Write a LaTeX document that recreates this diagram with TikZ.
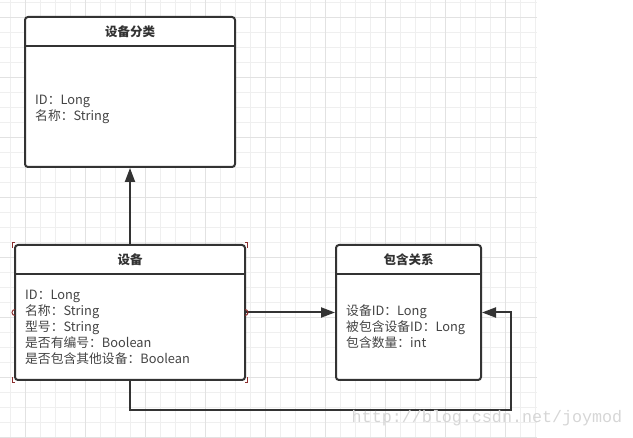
\documentclass[tikz,border=0pt]{standalone}
\usepackage{fontspec}
\setmainfont{Noto Sans CJK SC}
\newfontfamily\wmfont{Liberation Mono}
\usetikzlibrary{arrows.meta}
\definecolor{gridlight}{HTML}{EFEFEF}
\definecolor{griddark}{HTML}{E2E2E2}
\definecolor{ink}{HTML}{333333}
\definecolor{txt}{HTML}{444444}
\definecolor{handle}{HTML}{8B2E2E}
\definecolor{wm}{HTML}{D6D6D6}
\tikzset{
  umlbox/.style={draw=ink, line width=2pt, rounded corners=3pt, fill=white, inner sep=0pt},
  divider/.style={draw=ink, line width=2pt},
  title/.style={font=\fontsize{12.5pt}{15pt}\selectfont\bfseries, text=ink, inner sep=0pt},
  attrs/.style={font=\fontsize{12.8pt}{16pt}\selectfont, text=txt, align=left, inner sep=0pt, anchor=west},
  conn/.style={draw=ink, line width=2pt, -{Triangle[length=14pt,width=10pt]}},
  hdl/.style={draw=handle, line width=1pt},
}
\begin{document}
\begin{tikzpicture}[x=1pt,y=-1pt]
\useasboundingbox (0,0) rectangle (633,438);
% grid
\foreach \i in {0,...,35} { \draw[gridlight, line width=1pt] (10+15*\i,0) -- (10+15*\i,438); }
\foreach \j in {0,...,29} { \draw[gridlight, line width=1pt] (0,3+15*\j) -- (537,3+15*\j); }
\foreach \i in {0,...,8} { \draw[griddark, line width=1pt] (25+60*\i,0) -- (25+60*\i,438); }
\foreach \j in {0,...,7} { \draw[griddark, line width=1pt] (0,18+60*\j) -- (537,18+60*\j); }

% boxes
\node[umlbox, minimum width=210pt, minimum height=150pt] (cat) at (130,92) {};
\node[umlbox, minimum width=230pt, minimum height=135pt] (dev) at (130,312.5) {};
\node[umlbox, minimum width=145pt, minimum height=135pt] (rel) at (408.5,312.5) {};

\draw[divider] (cat.west |- 0,46.5) -- (cat.east |- 0,46.5);
\draw[divider] (dev.west |- 0,274) -- (dev.east |- 0,274);
\draw[divider] (rel.west |- 0,274) -- (rel.east |- 0,274);

\node[title] (catt) at (130,32) {设备分类};
\node[title] (devt) at (130,260) {设备};
\node[title] (relt) at (408.5,260) {包含关系};

\node[attrs] (cata) at (35,109) {ID：Long\\名称：String};
\node[attrs] (deva) at (25,327) {ID：Long\\名称：String\\型号：String\\是否有编号：Boolean\\是否包含其他设备：Boolean};
\node[attrs] (rela) at (346,327) {设备ID：Long\\被包含设备ID：Long\\包含数量：int};

% connectors
\coordinate (loop) at (511,410);
\draw[conn] (dev.north) -- (cat.south);
\draw[conn] (dev.east) -- (rel.west);
\draw[conn] (dev.south) |- (loop) |- (rel.east);

% selection handles
\draw[hdl] (15,242.5) -- (12.5,242.5) -- (12.5,248);
\draw[hdl] (245,242.5) -- (247.5,242.5) -- (247.5,248);
\draw[hdl] (15,382.5) -- (12.5,382.5) -- (12.5,377);
\draw[hdl] (245,382.5) -- (247.5,382.5) -- (247.5,377);
\draw[hdl] (15,309.5) arc[start angle=90, end angle=270, radius=3pt];
\draw[hdl] (245,309.5) arc[start angle=90, end angle=-90, radius=3pt];

% watermark
\node[font=\wmfont\fontsize{16.7pt}{18pt}\selectfont, text=wm, inner sep=0pt] (wmk) at (487,418) {http://blog.csdn.net/joymod};
\end{tikzpicture}
\end{document}
